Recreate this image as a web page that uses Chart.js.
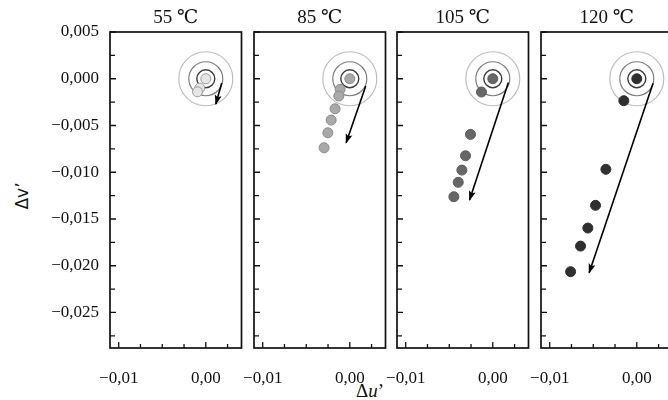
<!DOCTYPE html>
<html>
<head>
<meta charset="utf-8">
<script src="https://cdn.jsdelivr.net/npm/chart.js@4.4.0/dist/chart.umd.min.js"></script>
<style>
  html, body { margin: 0; padding: 0; background: #fff; overflow: hidden; width: 668px; height: 400px; }
  #wrap { position: relative; width: 668px; height: 400px; overflow: hidden; }
  canvas { position: absolute; top: 0; }
  .lab { position: absolute; color: #111; white-space: nowrap; transform: translate(-50%, -50%); }
  #xlab { left: 370px; top: 391px; font: 19px 'Liberation Serif', 'DejaVu Serif', serif; }
  #ylab { left: 22px; top: 196px; font: 17px 'DejaVu Sans', sans-serif; transform: translate(-50%, -50%) rotate(-90deg); }
</style>
</head>
<body>
<div id="wrap">
  <div class="lab" id="xlab">Δ<i>u</i>’</div>
  <div class="lab" id="ylab">Δv’</div>
</div>
<script>
'use strict';

// titles and axis ticks
let panelTitles = ['55 ℃', '85 ℃', '105 ℃', '120 ℃'];
let xTicks = [-0.01, 0];
let xMinor = [-0.0075, -0.005, -0.0025, 0.0025];
let yTicks = [0.005, 0, -0.005, -0.01, -0.015, -0.02, -0.025];
let yMinor = [0.0025, -0.0025, -0.0075, -0.0125, -0.0175, -0.0225, -0.0275];

// measured colour shifts, first point of each panel is the reference (0,0)
let u55 = [0, -0.0007, -0.00095];
let v55 = [0, -0.0010, -0.0014];
let u85 = [0, -0.00111, -0.00126, -0.00169, -0.00214, -0.00252, -0.00295];
let v85 = [0, -0.00113, -0.00185, -0.00321, -0.00442, -0.00578, -0.00738];
let u105 = [0, -0.0013, -0.00256, -0.00313, -0.00355, -0.00397, -0.00447];
let v105 = [0, -0.00142, -0.00595, -0.00824, -0.00977, -0.01108, -0.01262];
let u120 = [0, -0.00149, -0.00355, -0.00474, -0.00562, -0.00646, -0.0076];
let v120 = [0, -0.00235, -0.00969, -0.01354, -0.01597, -0.0179, -0.02064];

// trend arrows: [start, end]
let arrowU = [[0.00183, 0.00115], [0.00183, -0.00042], [0.00179, -0.00267], [0.00187, -0.00547]];
let arrowV = [[-0.00046, -0.0027], [-0.00078, -0.00685], [-0.00039, -0.01297], [-0.00049, -0.02075]];

let allU = [u55, u85, u105, u120];
let allV = [v55, v85, v105, v120];
let fills = ['#e6e6e6', '#a9a9a9', '#676767', '#2f2f2f'];
let edges = ['#9a9a9a', '#8a8a8a', '#5a5a5a', '#2f2f2f'];

let serif = "'Liberation Serif', 'DejaVu Serif', serif";
let panelLeft = [110, 254, 397, 541];
let panelW = 131.5;

function toPoints(us, vs) {
  let pts = [];
  for (let i = 0; i < us.length; i++) {
    pts.push({ x: us[i], y: vs[i] });
  }
  return pts;
}

function tickList(big, small) {
  let list = big.map(v => ({ value: v, big: true })).concat(small.map(v => ({ value: v, big: false })));
  return list.sort((a, b) => a.value - b.value);
}

function fmt(v, digits) {
  return v.toFixed(digits).replace('.', ',').replace('-', '\u2212');
}

// inward tick marks and the panel frame
let frameTicks = {
  id: 'frameTicks',
  afterDraw(chart) {
    let ctx = chart.ctx;
    let a = chart.chartArea;
    let x = chart.scales.x;
    let y = chart.scales.y;
    ctx.save();
    ctx.strokeStyle = '#111';
    ctx.lineWidth = 1.3;
    ctx.beginPath();
    x.ticks.forEach(t => {
      let px = x.getPixelForValue(t.value);
      ctx.moveTo(px, a.bottom);
      ctx.lineTo(px, a.bottom - (t.big ? 6 : 4));
    });
    y.ticks.forEach(t => {
      let py = y.getPixelForValue(t.value);
      ctx.moveTo(a.left, py);
      ctx.lineTo(a.left + (t.big ? 6 : 5), py);
    });
    ctx.stroke();
    ctx.lineWidth = 1.7;
    ctx.strokeRect(a.left, a.top, a.right - a.left, a.bottom - a.top);
    ctx.restore();
  }
};

// arrow head at the end of the trend line
let arrowHead = {
  id: 'arrowHead',
  afterDatasetsDraw(chart) {
    let pts = chart.getDatasetMeta(2).data;
    if (pts.length < 2) return;
    let p0 = pts[0];
    let p1 = pts[1];
    let ang = Math.atan2(p1.y - p0.y, p1.x - p0.x);
    let len = 9;
    let half = 3.5;
    let ctx = chart.ctx;
    ctx.save();
    ctx.translate(p1.x, p1.y);
    ctx.rotate(ang);
    ctx.fillStyle = '#000';
    ctx.beginPath();
    ctx.moveTo(1, 0);
    ctx.lineTo(-len, half);
    ctx.lineTo(-len + 2, 0);
    ctx.lineTo(-len, -half);
    ctx.closePath();
    ctx.fill();
    ctx.restore();
  }
};

function makePanel(i) {
  let leftW = i === 0 ? 110 : 30;
  let canvasW = i === 0 ? 250 : 170;
  let canvas = document.createElement('canvas');
  canvas.width = canvasW;
  canvas.height = 400;
  canvas.style.width = canvasW + 'px';
  canvas.style.height = '400px';
  canvas.style.left = (panelLeft[i] - leftW) + 'px';
  document.getElementById('wrap').appendChild(canvas);

  new Chart(canvas, {
    type: 'scatter',
    data: {
      datasets: [
        {
          data: toPoints(allU[i], allV[i]),
          pointRadius: 5,
          pointBorderWidth: 1,
          backgroundColor: fills[i],
          borderColor: edges[i],
          order: 1
        },
        {
          data: [{ x: 0, y: 0 }, { x: 0, y: 0 }, { x: 0, y: 0 }],
          pointRadius: [27, 17, 9],
          pointBorderWidth: [1.2, 1.2, 1.4],
          backgroundColor: 'rgba(0,0,0,0)',
          borderColor: ['#bdbdbd', '#7d7d7d', '#3a3a3a'],
          order: 3
        },
        {
          data: toPoints(arrowU[i], arrowV[i]),
          showLine: true,
          pointRadius: 0,
          borderColor: '#000',
          borderWidth: 1.6,
          order: 2
        }
      ]
    },
    options: {
      responsive: false,
      animation: false,
      events: [],
      layout: {
        autoPadding: false,
        padding: { left: 0, top: 0, bottom: 0, right: canvasW - leftW - panelW }
      },
      plugins: {
        legend: { display: false },
        tooltip: { enabled: false },
        title: {
          display: true,
          text: panelTitles[i],
          fullSize: false,
          color: '#111',
          font: { family: serif, size: 19, weight: 'normal', lineHeight: 1.2 },
          padding: { top: 7, bottom: 2.2 }
        }
      },
      scales: {
        x: {
          min: -0.011,
          max: 0.0041,
          afterBuildTicks: scale => { scale.ticks = tickList(xTicks, xMinor); },
          afterFit: scale => {
            scale.height = 52;
            scale.paddingLeft = 0;
            scale.paddingRight = 0;
          },
          grid: { display: false, drawTicks: false },
          border: { display: false },
          ticks: {
            autoSkip: false,
            maxRotation: 0,
            padding: 20,
            color: '#111',
            font: { family: serif, size: 17 },
            callback: (v, idx, ticks) => ticks[idx].big ? fmt(v, 2) : ''
          }
        },
        y: {
          min: -0.0288,
          max: 0.005,
          afterBuildTicks: scale => { scale.ticks = tickList(yTicks, yMinor); },
          afterFit: scale => {
            scale.width = leftW;
            scale.paddingTop = 0;
            scale.paddingBottom = 0;
          },
          grid: { display: false, drawTicks: false },
          border: { display: false },
          ticks: {
            display: i === 0,
            autoSkip: false,
            padding: 11,
            color: '#111',
            font: { family: serif, size: 17 },
            callback: (v, idx, ticks) => ticks[idx].big ? fmt(v, 3) : ''
          }
        }
      }
    },
    plugins: [frameTicks, arrowHead]
  });
}

for (let i = 0; i < panelTitles.length; i++) {
  makePanel(i);
}
</script>
</body>
</html>
